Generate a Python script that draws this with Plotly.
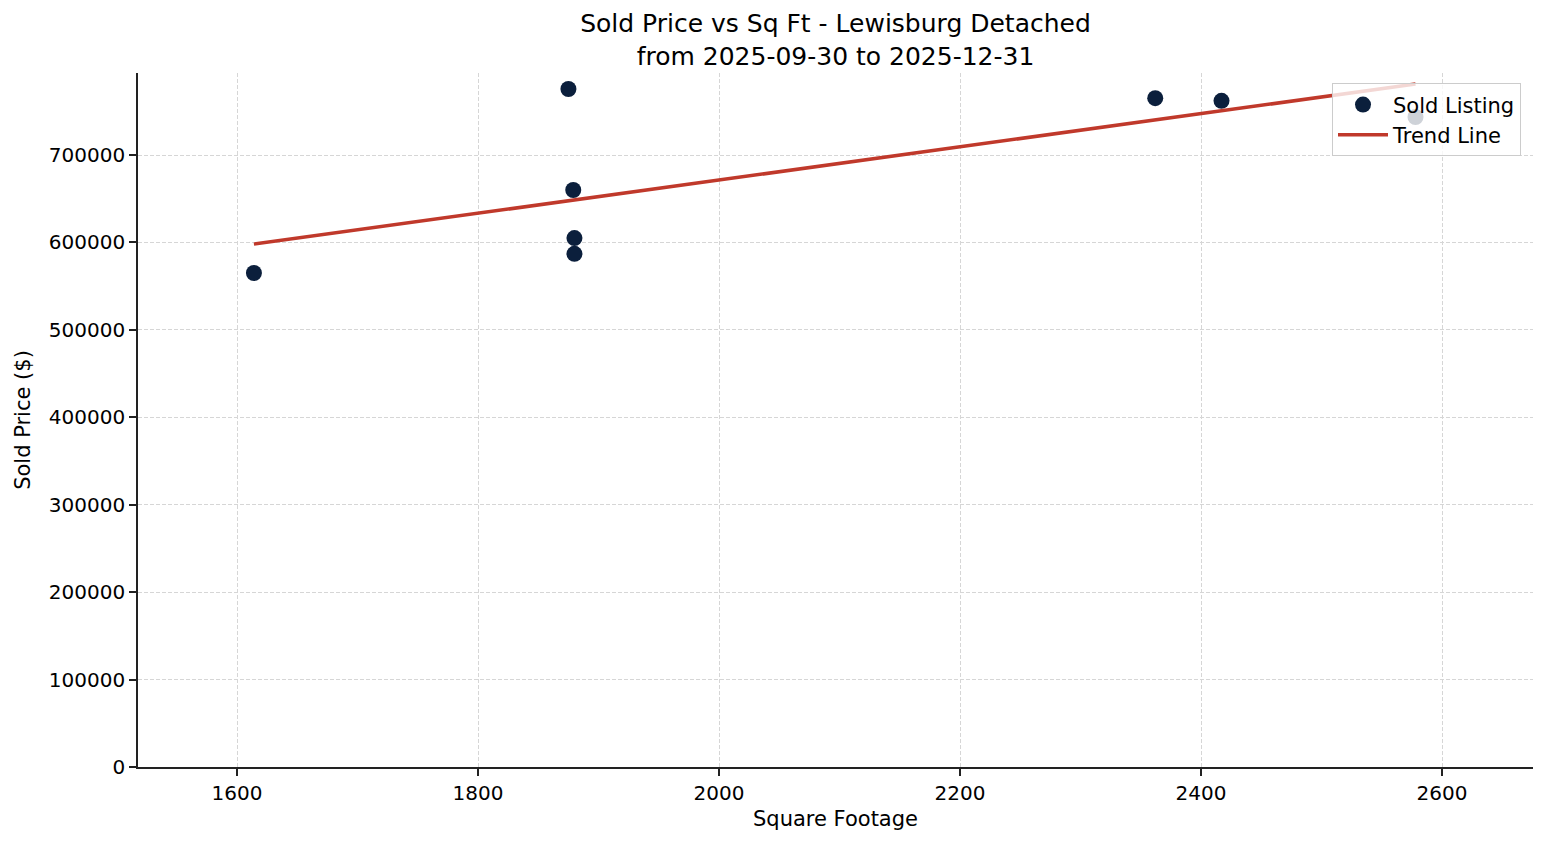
"""
Scatter of sold price against square footage with a fitted trend line.
"""

import numpy as np
import plotly.graph_objects as go

# Sold listings
sq_ft = [1614, 1875, 1879, 1880, 1880, 2362, 2417, 2578]
sold_price = [565000, 775500, 660000, 605000, 587000, 765000, 762000, 743500]

x_ticks = [1600, 1800, 2000, 2200, 2400, 2600]
y_ticks = [0, 100000, 200000, 300000, 400000, 500000, 600000, 700000]

title_lines = ["Sold Price vs Sq Ft - Lewisburg Detached", "from 2025-09-30 to 2025-12-31"]

# Least squares trend line over the span of the data
slope, intercept = np.polyfit(sq_ft, sold_price, 1)
trend_x = np.array([min(sq_ft), max(sq_ft)])
trend_y = slope * trend_x + intercept

font = "DejaVu Sans, Liberation Sans, sans-serif"

# the page body adds an 8px offset, so the figure is a bit smaller than the window
fig_w, fig_h = 1531, 829

fig = go.Figure()

fig.add_trace(go.Scatter(
    x=sq_ft, y=sold_price, mode="markers", name="Sold Listing",
    marker=dict(color="#0b1f3c", size=16, line=dict(width=0)),
))

fig.add_trace(go.Scatter(
    x=trend_x, y=trend_y, mode="lines", name="Trend Line",
    line=dict(color="#c0392b", width=3.5),
))

axis_common = dict(
    showline=True, linecolor="#222222", linewidth=1.6,
    ticks="outside", ticklen=7, tickwidth=1.6, tickcolor="#222222",
    showgrid=True, gridcolor="#d6d6d6", griddash="4px,2px", gridwidth=0.8,
    zeroline=False, tickfont=dict(size=20, color="black"),
    mirror=False,
)

fig.update_xaxes(
    range=[1517.8, 2675.5], tickvals=x_ticks,
    title=dict(text="Square Footage", font=dict(size=21, color="black"), standoff=8),
    **axis_common,
)
fig.update_yaxes(
    range=[0, 793800], tickvals=y_ticks, tickformat="d",
    title=dict(text="Sold Price ($)", font=dict(size=21, color="black"), standoff=12),
    **axis_common,
)

fig.update_layout(
    width=fig_w, height=fig_h,
    margin=dict(l=130, r=6, t=65, b=70),
    plot_bgcolor="white", paper_bgcolor="white",
    font=dict(family=font, color="black"),
    title=dict(
        text="<br>".join(title_lines), x=(130 + 1525) / 2 / fig_w, xanchor="center",
        y=1 - 24 / fig_h, yanchor="top", yref="container",
        font=dict(size=25, color="black"),
    ),
    legend=dict(
        x=0.9914, xanchor="right", y=0.985, yanchor="top",
        bgcolor="rgba(255,255,255,0.8)", bordercolor="#cccccc", borderwidth=1,
        font=dict(size=21, color="black"), itemwidth=50,
        tracegroupgap=0,
    ),
    showlegend=True,
)

fig.write_html("out.html")
